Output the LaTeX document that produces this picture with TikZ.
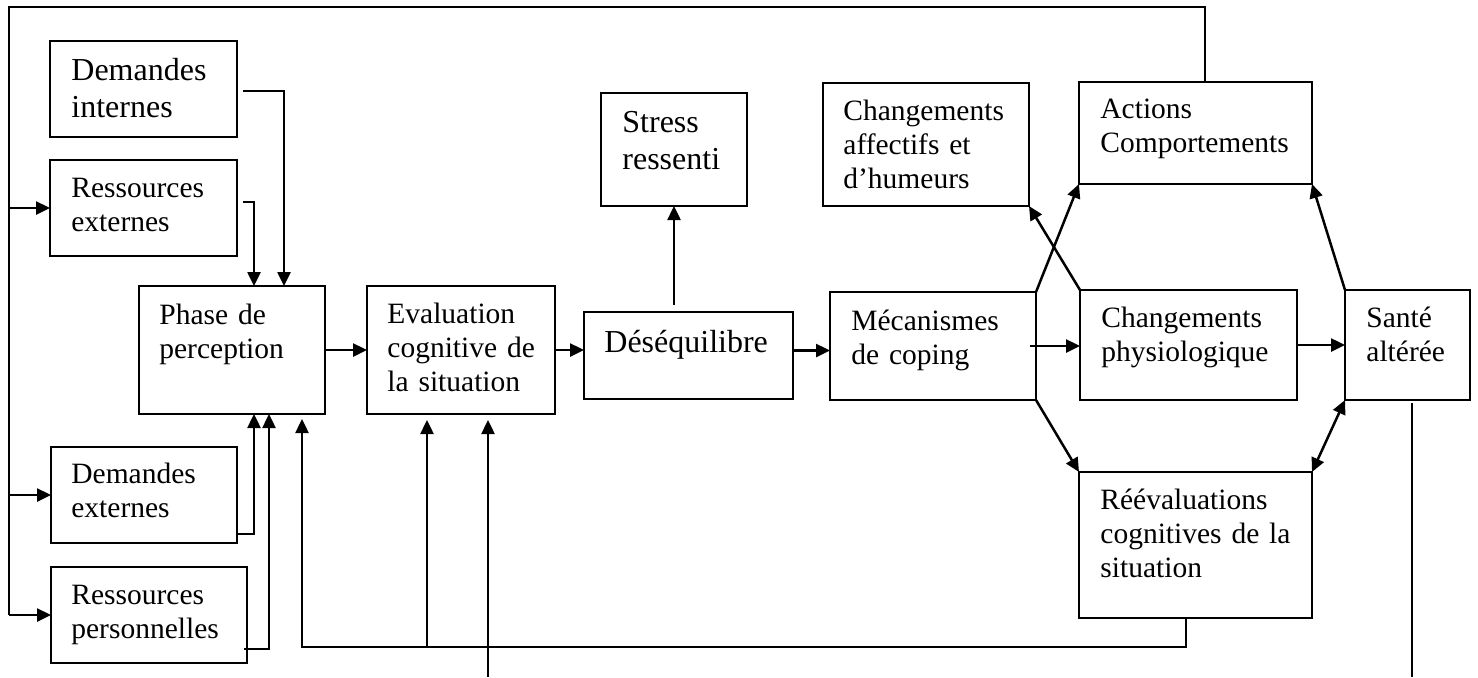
\documentclass[tikz,border=0pt]{standalone}
\usepackage{fontspec}
\setmainfont{Liberation Serif}
\usetikzlibrary{arrows.meta,calc}
\newcommand\mkbox[5]{\node[bx,minimum width={(#4-#2)*0.5pt},minimum height={(#5-#3)*0.5pt}] (#1) at (#2,#3) {};}
\tikzset{
 bx/.style={draw,line width=1pt,inner sep=0pt,outer sep=0pt,anchor=north west},
 txt/.style={anchor=base west,inner sep=0pt,align=left,text width=5cm,font=\fontsize{14.75pt}{17pt}\selectfont},
 bigtxt/.style={txt,font=\fontsize{16pt}{18.5pt}\selectfont},
 ln/.style={line width=1.25pt},
 thn/.style={line width=0.85pt},
 arr/.style={ln,-{Triangle[length=7pt,width=6.5pt]}},
 darr/.style={ln,{Triangle[length=7pt,width=6.5pt]}-{Triangle[length=7pt,width=6.5pt]}},
}
\begin{document}
\begin{tikzpicture}[x=0.5pt,y=-0.5pt]
\useasboundingbox (0,0) rectangle (1478,677);
% boxes
\mkbox{di}{50}{41}{237}{137}
\mkbox{re}{50}{160}{237}{256}
\mkbox{ph}{139}{286}{325}{414}
\mkbox{ev}{367}{286}{555}{414}
\mkbox{de}{584}{312}{793}{399}
\mkbox{st}{601}{93}{747}{206}
\mkbox{ca}{823}{83}{1029}{206}
\mkbox{ac}{1079}{82}{1312}{184}
\mkbox{mc}{830}{292}{1036}{400}
\mkbox{cp}{1080}{290}{1297}{400}
\mkbox{sa}{1345}{290}{1470}{400}
\mkbox{rv}{1079}{472}{1312}{618}
\mkbox{dx}{51}{447}{237}{543}
\mkbox{rp}{51}{567}{247}{663}
% texts
\node[bigtxt] (dit) at (71,80) {Demandes\\internes};
\node[txt] (ret) at (71,197) {Ressources\\externes};
\node[txt] (pht) at (159,324) {Phase de\\perception};
\node[txt] (evt) at (387,323) {Evaluation\\cognitive de\\la situation};
\node[bigtxt] (det) at (604,352) {Déséquilibre};
\node[bigtxt] (stt) at (622,132) {Stress\\ressenti};
\node[txt] (cat) at (843,120) {Changements\\affectifs et\\d’humeurs};
\node[txt] (act) at (1100,118) {Actions\\Comportements};
\node[txt] (mct) at (851,330) {Mécanismes\\de coping};
\node[txt] (cpt) at (1101,327) {Changements\\physiologique};
\node[txt] (sat) at (1366,327) {Santé\\altérée};
\node[txt] (rvt) at (1100,509) {Réévaluations\\cognitives de la\\situation};
\node[txt] (dxt) at (71,483) {Demandes\\externes};
\node[txt] (rpt) at (71,604) {Ressources\\personnelles};
% helper coordinates
\coordinate (tr) at (1205,7);
\coordinate (tl) at (9,7);
\coordinate (bot) at (0,677);
\coordinate (bk) at (302,647);
% big feedback loop from Actions
\draw[thn] (tr |- ac.north) -- (tr) -- (tl) -- (tl |- rp.west);
\draw[arr] (tl |- rp.west) -- (rp.west);
\draw[arr] (tl |- re.west) -- (re.west);
\draw[arr] (tl |- dx.west) -- (dx.west);
% inputs to perception
\draw[arr] ([shift={(3pt,-1pt)}]di.east) -| ([xshift=26pt]ph.north);
\draw[arr] ([shift={(3pt,3pt)}]re.east) -| ([xshift=11pt]ph.north);
\draw[arr] ([yshift=-19.5pt]dx.east) -| ([xshift=11pt]ph.south);
\draw[arr] ([shift={(-1.5pt,-17pt)}]rp.east) -| ([xshift=18.5pt]ph.south);
% feedback from reevaluation
\coordinate (e1) at ([xshift=-17pt]ev.south);
\coordinate (e2) at ([xshift=13.5pt]ev.south);
\draw[arr] ([xshift=-4.75pt]rv.south) |- (bk) -- ([shift={(35pt,-2.5pt)}]ph.south);
\draw[arr] (e1 |- bk) -- ([yshift=-3pt]e1);
\draw[arr] (e2 |- bot) -- ([yshift=-3pt]e2);
% main chain
\coordinate (d1) at ([yshift=2.5pt]de.east);
\draw[arr] (ph.east) -- (ev.west |- ph.east);
\draw[arr] (ev.east) -- (de.west |- ev.east);
\draw[arr] (d1) -- (mc.west |- d1);
\draw[arr] ([xshift=-3pt]mc.east) -- (cp.west |- mc.east);
\draw[arr] (cp.east) -- (sa.west |- cp.east);
\coordinate (s1) at ([yshift=3.5pt]de.north);
\draw[arr] (s1 -| st.south) -- (st.south);
% diagonals
\draw[arr] (mc.north east) -- (ac.south west);
\draw[arr] (cp.north west) -- (ca.south east);
\draw[arr] (mc.south east) -- (rv.north west);
\draw[arr] (sa.north west) -- (ac.south east);
\draw[darr] (sa.south west) -- (rv.north east);
% line from health
\coordinate (h1) at ([shift={(2.25pt,-1.5pt)}]sa.south);
\draw[thn] (h1) -- (h1 |- bot);
\end{tikzpicture}
\end{document}
